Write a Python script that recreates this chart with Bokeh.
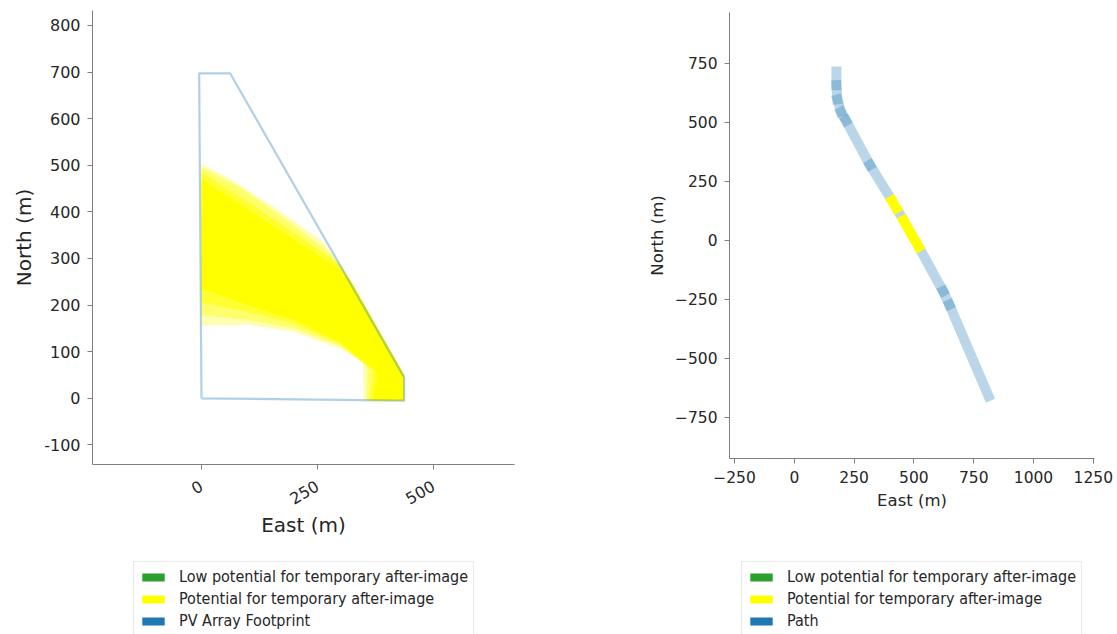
from bokeh.plotting import figure
from bokeh.layouts import row, column
from bokeh.models import Legend, LegendItem, FixedTicker, Range1d
from bokeh.embed import file_html
from bokeh.resources import INLINE

# ---------------- data ----------------
footprint_east = [0, -5, 62, 437, 437, 0]
footprint_north = [0, 697, 697, 45, -5, 0]

# glare fan, drawn as nested bands from faint outer edge to solid core
glare_bands_east = [
    [0, 60, 160, 260, 322, 437, 437, 350, 348, 300, 200, 100, 0],
    [0, 80, 180, 280, 322, 437, 437, 356, 358, 300, 200, 100, 0],
    [0, 100, 200, 300, 322, 437, 437, 362, 368, 300, 200, 100, 0],
    [0, 100, 200, 300, 322, 437, 437, 370, 380, 300, 200, 100, 0],
]
glare_bands_north = [
    [502, 472, 408, 338, 252, 50, -5, -5, 78, 106, 142, 158, 156],
    [495, 455, 385, 310, 252, 50, -5, -5, 68, 111, 150, 168, 178],
    [485, 422, 355, 287, 252, 50, -5, -5, 60, 116, 160, 185, 205],
    [470, 405, 340, 275, 250, 50, -5, -5, 55, 120, 168, 200, 235],
]
glare_bands_alpha = [0.3, 0.38, 0.55, 1.0]

left_xticks = [0, 250, 500]
left_yticks = [-100, 0, 100, 200, 300, 400, 500, 600, 700, 800]

path_east = [176, 176, 180, 195, 216, 316, 398, 437, 446, 530, 622, 648, 812]
path_north = [716, 658, 598, 545, 508, 320, 186, 118, 104, -45, -215, -272, -660]
path_class = ["none", "none", "none", "none", "none", "none", "glare", "none",
              "glare", "none", "none", "none"]

right_xticks = [-250, 0, 250, 500, 750, 1000, 1250]
right_yticks = [-750, -500, -250, 0, 250, 500, 750]

legend_labels = ["Low potential for temporary after-image",
                 "Potential for temporary after-image"]
left_last_label = "PV Array Footprint"
right_last_label = "Path"

GREEN = "#2ca02c"
YELLOW = "#ffff00"
BLUE = "#1f77b4"
AXIS_COL = "#7f7f7f"
TEXT_COL = "#262626"
LEG_FONT = "DejaVu Sans Condensed"


def style_axes(p, tick_size, label_size):
    p.outline_line_color = None
    p.xgrid.grid_line_color = None
    p.ygrid.grid_line_color = None
    for ax in (p.xaxis[0], p.yaxis[0]):
        ax.axis_line_color = AXIS_COL
        ax.major_tick_line_color = AXIS_COL
        ax.major_tick_out = 5
        ax.major_tick_in = 0
        ax.minor_tick_line_color = None
        ax.major_label_standoff = 7
        ax.major_label_text_font = "DejaVu Sans"
        ax.major_label_text_font_size = f"{tick_size}px"
        ax.major_label_text_color = TEXT_COL
        ax.axis_label_text_font = "DejaVu Sans"
        ax.axis_label_text_font_size = f"{label_size}px"
        ax.axis_label_text_font_style = "normal"
        ax.axis_label_text_color = TEXT_COL


def legend_figure(width, frame_left, left_px, last_label):
    f = figure(width=width, height=89, x_range=Range1d(0, 1), y_range=Range1d(0, 1),
               output_backend="svg", toolbar_location=None,
               min_border_left=0, min_border_right=0, min_border_top=0,
               min_border_bottom=0)
    f.axis.visible = False
    f.grid.grid_line_color = None
    f.outline_line_color = None
    items = []
    for lab, col in zip(legend_labels + [last_label], [GREEN, YELLOW, BLUE]):
        r = f.quad(left=[-10], right=[-9], top=[-10], bottom=[-11],
                   fill_color=col, line_color=None)
        items.append(LegendItem(label=lab, renderers=[r]))
    # the legend figure's frame is aligned with the plot frame above it
    leg = Legend(items=items, orientation="vertical",
                 location=(left_px - frame_left, -2))
    leg.label_text_font = LEG_FONT
    leg.label_text_font_size = "16px"
    leg.label_text_color = TEXT_COL
    leg.glyph_width = 28
    leg.glyph_height = 10
    leg.label_standoff = 12
    leg.label_height = 19
    leg.spacing = 3
    leg.padding = 5
    leg.margin = 0
    leg.border_line_color = "#d6d6d6"
    leg.border_line_width = 1
    leg.background_fill_alpha = 1
    f.add_layout(leg, "center")
    return f


# ---------------- left figure ----------------
p1 = figure(width=600, height=545, x_range=(-235, 675), y_range=(-142, 832),
            output_backend="svg", toolbar_location=None,
            min_border_left=92, min_border_right=86, min_border_top=10,
            min_border_bottom=81)
style_axes(p1, 16, 20)
p1.xaxis.axis_label = "East (m)"
p1.yaxis.axis_label = "North (m)"
p1.xaxis.ticker = FixedTicker(ticks=left_xticks)
p1.yaxis.ticker = FixedTicker(ticks=left_yticks)
p1.yaxis.major_label_overrides = {t: str(t) for t in left_yticks}
p1.xaxis.major_label_orientation = 0.52
p1.xaxis.major_label_standoff = 15
p1.xaxis.axis_label_standoff = 0

for bx, by, ba in zip(glare_bands_east, glare_bands_north, glare_bands_alpha):
    p1.patch(bx, by, fill_color=YELLOW, fill_alpha=ba, line_color=None)
p1.line(footprint_east, footprint_north, line_color=BLUE, line_alpha=0.35, line_width=2.2)

leg1 = legend_figure(600, 92, 133, left_last_label)

# ---------------- right figure ----------------
p2 = figure(width=517, height=545, x_range=(-271, 1255), y_range=(-924, 966),
            output_backend="svg", toolbar_location=None,
            min_border_left=129, min_border_right=23, min_border_top=12,
            min_border_bottom=87)
style_axes(p2, 15.5, 16.5)
p2.xaxis.axis_label = "East (m)"
p2.yaxis.axis_label = "North (m)"
p2.xaxis.ticker = FixedTicker(ticks=right_xticks)
p2.yaxis.ticker = FixedTicker(ticks=right_yticks)
p2.xaxis.major_label_overrides = {t: str(t).replace("-", "\u2212") for t in right_xticks}
p2.yaxis.major_label_overrides = {t: str(t).replace("-", "\u2212") for t in right_yticks}

x0 = path_east[:-1]
y0 = path_north[:-1]
x1 = path_east[1:]
y1 = path_north[1:]
bx0, by0, bx1, by1 = [], [], [], []
gx0, gy0, gx1, gy1 = [], [], [], []
for a, b, c, d, k in zip(x0, y0, x1, y1, path_class):
    if k == "glare":
        gx0.append(a); gy0.append(b); gx1.append(c); gy1.append(d)
    else:
        bx0.append(a); by0.append(b); bx1.append(c); by1.append(d)
p2.segment(bx0, by0, bx1, by1, line_color=BLUE, line_alpha=0.3, line_width=10,
           line_cap="square")
p2.segment(gx0, gy0, gx1, gy1, line_color=YELLOW, line_alpha=1.0, line_width=10,
           line_cap="butt")

leg2 = legend_figure(517, 729 - 600, 741 - 600, right_last_label)

layout = row(column(p1, leg1), column(p2, leg2))
open("out.html", "w").write(file_html(layout, INLINE))
